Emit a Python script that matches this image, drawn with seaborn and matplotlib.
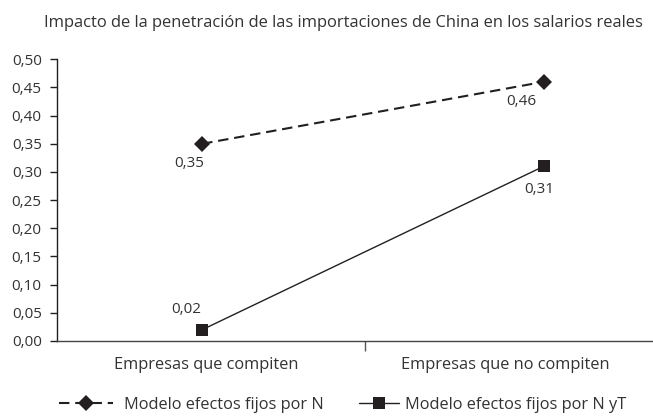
import matplotlib
matplotlib.use("Agg")
import matplotlib.pyplot as plt
from matplotlib.ticker import FuncFormatter, FixedLocator
from matplotlib.lines import Line2D
import seaborn as sns
import pandas as pd

sns.set_theme(style="white")
plt.rcParams["font.family"] = ["Open Sans", "DejaVu Sans"]

title = "Impacto de la penetración de las importaciones de China en los salarios reales"
categories = ["Empresas que compiten", "Empresas que no compiten"]
series_names = ["Modelo efectos fijos por N", "Modelo efectos fijos por N yT"]
values_n = [0.35, 0.46]
values_nt = [0.02, 0.31]

ink = "#231f20"
text_col = "#333333"
fs_num = 11
fs_txt = 11.8

df_n = pd.DataFrame({"cat": categories, "val": values_n})
df_nt = pd.DataFrame({"cat": categories, "val": values_nt})

fig = plt.figure(figsize=(6.53, 4.16), dpi=100)
ax = fig.add_axes([0.0873, 0.1803, 0.9127, 0.6772])

sns.lineplot(data=df_n, x="cat", y="val", ax=ax, color=ink, linewidth=1.5,
             marker="D", markersize=8, markeredgewidth=0, sort=False)
ax.lines[-1].set_dashes([5, 2.8])
sns.lineplot(data=df_nt, x="cat", y="val", ax=ax, color=ink, linewidth=1.0,
             marker="s", markersize=8.5, markeredgewidth=0, sort=False)

def fmt(v):
    return f"{v:.2f}".replace(".", ",")

# value labels, placed next to each marker
offsets_n = [(-9.4, -14.4), (-15.8, -14.4)]
offsets_nt = [(-11.5, 14.4), (-2.9, -16.6)]
for i, v in enumerate(values_n):
    ax.annotate(fmt(v), (i, v), xytext=offsets_n[i], textcoords="offset points",
                ha="center", va="center", fontsize=fs_num, color=text_col)
for i, v in enumerate(values_nt):
    ax.annotate(fmt(v), (i, v), xytext=offsets_nt[i], textcoords="offset points",
                ha="center", va="center", fontsize=fs_num, color=text_col)

ax.set_ylim(0, 0.5)
ax.set_xlim(-0.425, 1.32)
ax.set_yticks([i * 0.05 for i in range(11)])
ax.yaxis.set_major_formatter(FuncFormatter(lambda v, p: fmt(v)))
ax.set_xticks([0.012, 0.888])
ax.set_xticklabels(categories)
ax.xaxis.set_minor_locator(FixedLocator([0.476]))
ax.tick_params(axis="x", which="major", length=0, pad=11.5, labelsize=fs_txt, colors=text_col)
ax.tick_params(axis="x", which="minor", length=7, width=1, color="#555555", direction="out", bottom=True)
ax.tick_params(axis="y", which="major", length=5, width=1, color=ink, direction="out", left=True,
               pad=6, labelsize=fs_num, labelcolor=text_col)
ax.set_xlabel("")
ax.set_ylabel("")

for s in ["top", "right"]:
    ax.spines[s].set_visible(False)
ax.spines["left"].set_color(ink)
ax.spines["left"].set_linewidth(1.0)
ax.spines["bottom"].set_color("#444444")
ax.spines["bottom"].set_linewidth(1.0)

fig.text(0.526, 0.944, title, ha="center", va="center", fontsize=11.9, color=text_col)

h1 = Line2D([], [], color=ink, linewidth=1.5, dashes=[5, 2.8], marker="D", markersize=8, markeredgewidth=0)
h2 = Line2D([], [], color=ink, linewidth=1.0, marker="s", markersize=8.5, markeredgewidth=0)
leg_y = 1 - 405 / 416
fig.legend([h1], [series_names[0]], loc="center left", bbox_to_anchor=(59 / 653, leg_y),
           frameon=False, fontsize=fs_txt, handlelength=3.3, handletextpad=0.65,
           borderpad=0, borderaxespad=0, labelcolor=text_col)
fig.legend([h2], [series_names[1]], loc="center left", bbox_to_anchor=(359 / 653, leg_y),
           frameon=False, fontsize=fs_txt, handlelength=2.45, handletextpad=0.35,
           borderpad=0, borderaxespad=0, labelcolor=text_col)

fig.savefig("out.png", dpi=100)
